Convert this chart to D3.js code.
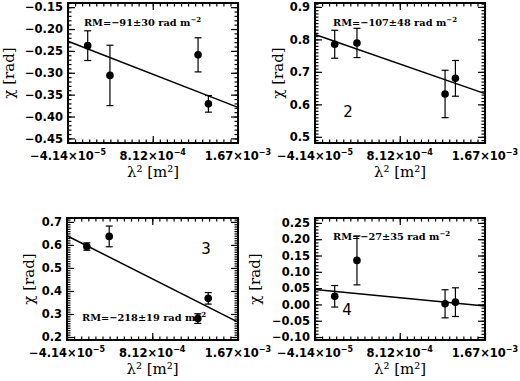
<!DOCTYPE html>
<html>
<head>
<meta charset="utf-8">
<script src="https://cdn.jsdelivr.net/npm/d3@7"></script>
<style>
body { margin: 0; background: #fff; }
</style>
</head>
<body>
<script>
// lambda^2 of the four bands (m^2), the same in every panel
var lambda2 = [1.57e-4, 3.81e-4, 1.268e-3, 1.372e-3];
var xDomain = [-4.14e-5, 1.67e-3];
var xTickValues = [-4.14e-5, 8.12e-4, 1.67e-3];
var xTickMant = ["\u22124.14\u00d710", "8.12\u00d710", "1.67\u00d710"];
var xTickExp = ["\u22125", "\u22124", "\u22123"];

// chi (rad) and its error for each panel
var chi1 = [-0.238, -0.306, -0.259, -0.371];
var err1 = [0.034, 0.069, 0.039, 0.019];
var chi2 = [0.785, 0.789, 0.632, 0.680];
var err2 = [0.043, 0.045, 0.073, 0.055];
var chi3 = [0.593, 0.637, 0.280, 0.368];
var err3 = [0.016, 0.045, 0.021, 0.025];
var chi4 = [0.025, 0.135, 0.002, 0.007];
var err4 = [0.033, 0.075, 0.043, 0.044];

// fitted line, value at left and right end of the x range
var fitStart = [-0.228, 0.815, 0.640, 0.046];
var fitEnd = [-0.379, 0.633, 0.265, -0.005];

var rmText = ["\u221291\u00b130", "\u2212107\u00b148", "\u2212218\u00b119", "\u221227\u00b135"];
var panelLabels = ["", "2", "3", "4"];

// y axes
var yDomains = [[-0.4605, -0.1405], [0.481, 0.912], [0.187, 0.717], [-0.109, 0.265]];
var yTicks1 = [-0.45, -0.40, -0.35, -0.30, -0.25, -0.20, -0.15];
var yTicks2 = [0.5, 0.6, 0.7, 0.8, 0.9];
var yTicks3 = [0.2, 0.3, 0.4, 0.5, 0.6, 0.7];
var yTicks4 = [-0.10, -0.05, 0.00, 0.05, 0.10, 0.15, 0.20, 0.25];
var yFormats = [".2f", ".1f", ".1f", ".2f"];

// panel boxes in the page
var layout = [
    {x0: 68, x1: 238, y0: 3, y1: 143, titleX: 9, rmX: 0.094, rmY: 0.143, numX: 0, numY: 0},
    {x0: 315, x1: 485, y0: 3, y1: 143, titleX: 278, rmX: 0.106, rmY: 0.143, numX: 0.194, numY: 0.78},
    {x0: 67, x1: 238, y0: 218, y1: 340, titleX: 29, rmX: 0.088, rmY: 0.82, numX: 0.813, numY: 0.255},
    {x0: 315, x1: 485, y0: 218, y1: 340, titleX: 255, rmX: 0.106, rmY: 0.156, numX: 0.188, numY: 0.75}
];

var chis = [chi1, chi2, chi3, chi4];
var errs = [err1, err2, err3, err4];
var yTicks = [yTicks1, yTicks2, yTicks3, yTicks4];

var svg = d3.select("body").append("svg")
    .attr("width", 520)
    .attr("height", 381);

var tickFont = "DejaVu Sans";
var textFont = "DejaVu Serif";

function draw_panel(i)
{
    let p = layout[i];
    let x = d3.scaleLinear().domain(xDomain).range([p.x0, p.x1]);
    let y = d3.scaleLinear().domain(yDomains[i]).range([p.y1, p.y0]);
    let g = svg.append("g");

    // minor ticks
    let ymin = d3.range(Math.ceil(yDomains[i][0] * 100), Math.floor(yDomains[i][1] * 100) + 1).map(function(d) { return d / 100; });
    let xstep = (xTickValues[1] - xTickValues[0]) / 12;
    let xmin = d3.range(0, 25).map(function(k) { return xTickValues[0] + k * xstep; });

    g.append("g").attr("transform", "translate(" + p.x0 + ",0)")
        .call(d3.axisLeft(y).tickValues(ymin).tickSize(-3.5).tickFormat(""));
    g.append("g").attr("transform", "translate(" + p.x1 + ",0)")
        .call(d3.axisRight(y).tickValues(ymin).tickSize(-3.5).tickFormat(""));
    g.append("g").attr("transform", "translate(0," + p.y1 + ")")
        .call(d3.axisBottom(x).tickValues(xmin).tickSize(-3.5).tickFormat(""));
    g.append("g").attr("transform", "translate(0," + p.y0 + ")")
        .call(d3.axisTop(x).tickValues(xmin).tickSize(-3.5).tickFormat(""));

    // major ticks with labels on the left
    let yl = g.append("g").attr("transform", "translate(" + p.x0 + ",0)")
        .call(d3.axisLeft(y).tickValues(yTicks[i]).tickSize(-7).tickPadding(5).tickFormat(d3.format(yFormats[i])));
    yl.selectAll("text")
        .attr("font-family", tickFont)
        .attr("font-weight", "bold")
        .attr("font-size", "11.5px")
        .attr("fill", "#000");
    g.append("g").attr("transform", "translate(" + p.x1 + ",0)")
        .call(d3.axisRight(y).tickValues(yTicks[i]).tickSize(-7).tickFormat(""));
    g.append("g").attr("transform", "translate(0," + p.y1 + ")")
        .call(d3.axisBottom(x).tickValues(xTickValues).tickSize(-7).tickFormat(""));
    g.append("g").attr("transform", "translate(0," + p.y0 + ")")
        .call(d3.axisTop(x).tickValues(xTickValues).tickSize(-7).tickFormat(""));

    g.selectAll(".domain").remove();
    g.selectAll(".tick line").attr("stroke", "#000").attr("stroke-width", 1.2);

    // x tick labels with exponents
    let xl = g.selectAll(".xlab")
        .data(xTickValues)
        .enter().append("text")
        .attr("class", "xlab")
        .attr("x", function(d) { return x(d); })
        .attr("y", p.y1 + 17)
        .attr("text-anchor", "middle")
        .attr("font-family", tickFont)
        .attr("font-weight", "bold")
        .attr("font-size", "11.5px");
    xl.append("tspan").text(function(d, k) { return xTickMant[k]; });
    xl.append("tspan").attr("dy", -5).attr("font-size", "8px").text(function(d, k) { return xTickExp[k]; });

    // box
    g.append("rect")
        .attr("x", p.x0)
        .attr("y", p.y0)
        .attr("width", p.x1 - p.x0)
        .attr("height", p.y1 - p.y0)
        .attr("fill", "none")
        .attr("stroke", "#000")
        .attr("stroke-width", 2);

    // fitted line
    g.append("line")
        .attr("x1", x(xDomain[0]))
        .attr("y1", y(fitStart[i]))
        .attr("x2", x(xDomain[1]))
        .attr("y2", y(fitEnd[i]))
        .attr("stroke", "#000")
        .attr("stroke-width", 1.5);

    // error bars and points
    let pts = g.selectAll(".pt")
        .data(chis[i])
        .enter().append("g")
        .attr("class", "pt");
    pts.append("line")
        .attr("x1", function(d, k) { return x(lambda2[k]); })
        .attr("x2", function(d, k) { return x(lambda2[k]); })
        .attr("y1", function(d, k) { return y(d - errs[i][k]); })
        .attr("y2", function(d, k) { return y(d + errs[i][k]); })
        .attr("stroke", "#000").attr("stroke-width", 1.2);
    [-1, 1].forEach(function(s) {
        pts.append("line")
            .attr("x1", function(d, k) { return x(lambda2[k]) - 3.5; })
            .attr("x2", function(d, k) { return x(lambda2[k]) + 3.5; })
            .attr("y1", function(d, k) { return y(d + s * errs[i][k]); })
            .attr("y2", function(d, k) { return y(d + s * errs[i][k]); })
            .attr("stroke", "#000").attr("stroke-width", 1.2);
    });
    pts.append("circle")
        .attr("cx", function(d, k) { return x(lambda2[k]); })
        .attr("cy", function(d) { return y(d); })
        .attr("r", 3.8)
        .attr("fill", "#000");

    // RM annotation
    let rm = g.append("text")
        .attr("x", p.x0 + p.rmX * (p.x1 - p.x0))
        .attr("y", p.y0 + p.rmY * (p.y1 - p.y0))
        .attr("dy", "0.35em")
        .attr("font-family", textFont)
        .attr("font-weight", "bold")
        .attr("font-size", "9.8px");
    rm.append("tspan").text("RM=" + rmText[i] + " rad m");
    rm.append("tspan").attr("dy", -4).attr("font-size", "7px").text("\u22122");

    // panel number
    if (panelLabels[i]) {
        g.append("text")
            .text(panelLabels[i])
            .attr("x", p.x0 + p.numX * (p.x1 - p.x0))
            .attr("y", p.y0 + p.numY * (p.y1 - p.y0))
            .attr("dy", "0.35em")
            .attr("text-anchor", "middle")
            .attr("font-family", tickFont)
            .attr("font-size", "15px");
    }

    // axis titles
    g.append("text")
        .text("\u03c7 [rad]")
        .attr("transform", "translate(" + p.titleX + "," + ((p.y0 + p.y1) / 2) + ") rotate(-90)")
        .attr("dy", "0.35em")
        .attr("text-anchor", "middle")
        .attr("font-family", textFont)
        .attr("font-size", "15px");
    g.append("text")
        .text("\u03bb\u00b2 [m\u00b2]")
        .attr("x", (p.x0 + p.x1) / 2)
        .attr("y", p.y1 + 34)
        .attr("text-anchor", "middle")
        .attr("font-family", textFont)
        .attr("font-size", "15px");
}

for (let i = 0; i < 4; i++) {
    draw_panel(i);
}
</script>
</body>
</html>
